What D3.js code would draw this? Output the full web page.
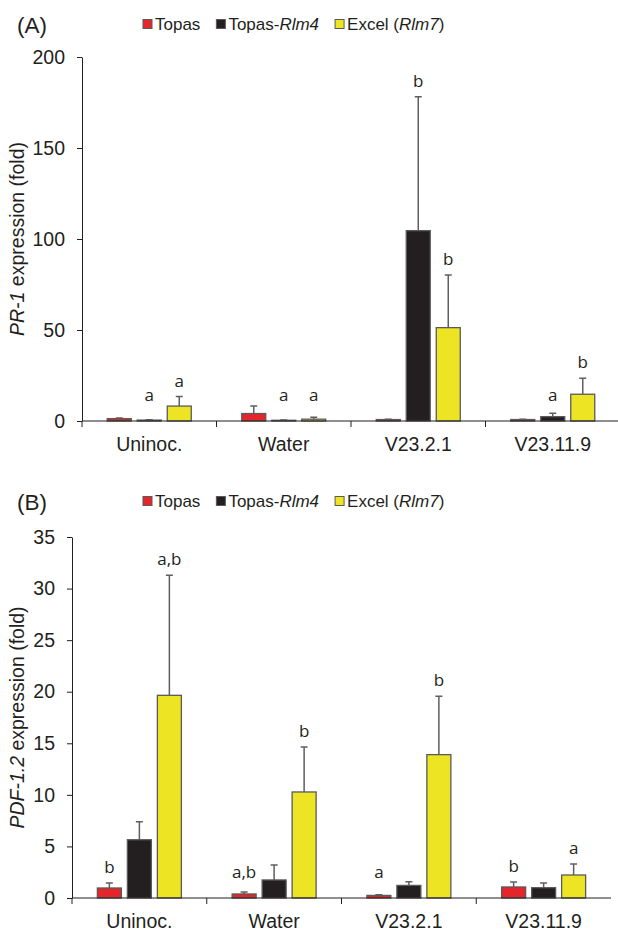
<!DOCTYPE html>
<html>
<head>
<meta charset="utf-8">
<script src="https://cdn.jsdelivr.net/npm/d3@7"></script>
<style>
  body { margin: 0; background: #fff; }
  text { font-family: "Liberation Sans", Arial, sans-serif; fill: #231f20; }
  .sig { font-family: "Open Sans", "DejaVu Sans", sans-serif; }
</style>
</head>
<body>
<div id="chart"></div>
<script>
// categories and series
const categories = ["Uninoc.", "Water", "V23.2.1", "V23.11.9"];
const seriesKeys = ["topas", "rlm4", "rlm7"];
const seriesColors = ["#e4252b", "#231f20", "#ede524"];

// (A) PR-1 expression, mean and upper error
const pr1Topas = [1.3, 4.1, 0.8, 0.8];
const pr1Rlm4 = [0.5, 0.4, 104.6, 2.4];
const pr1Rlm7 = [8.2, 1.0, 51.3, 14.7];
const pr1TopasErr = [0.3, 4.2, 0.2, 0.2];
const pr1Rlm4Err = [0.2, 0.2, 73.6, 1.8];
const pr1Rlm7Err = [5.2, 1.0, 28.9, 8.8];
const pr1TopasSig = ["", "", "", ""];
const pr1Rlm4Sig = ["a", "a", "b", "a"];
const pr1Rlm7Sig = ["a", "a", "b", "b"];
const pr1Ticks = [0, 50, 100, 150, 200];

// (B) PDF-1.2 expression, mean and upper error
const pdfTopas = [0.97, 0.39, 0.25, 1.07];
const pdfRlm4 = [5.65, 1.75, 1.22, 1.0];
const pdfRlm7 = [19.65, 10.28, 13.9, 2.23];
const pdfTopasErr = [0.48, 0.19, 0.06, 0.48];
const pdfRlm4Err = [1.75, 1.45, 0.36, 0.45];
const pdfRlm7Err = [11.65, 4.37, 5.65, 1.07];
const pdfTopasSig = ["b", "a,b", "a", "b"];
const pdfRlm4Sig = ["", "", "", ""];
const pdfRlm7Sig = ["a,b", "b", "b", "a"];
const pdfTicks = [0, 5, 10, 15, 20, 25, 30, 35];

// legend labels, pieces flagged italic
const legendLabels = [
  [["Topas", false]],
  [["Topas-", false], ["Rlm4", true]],
  [["Excel (", false], ["Rlm7", true], [")", false]]
];

const svg = d3.select("#chart")
  .append("svg")
    .attr("width", 618)
    .attr("height", 931);

function buildRows(means, errs, sigs) {
  return categories.map((c, i) => ({
    cat: c,
    bars: seriesKeys.map((k, j) => ({
      key: k, color: seriesColors[j],
      value: means[j][i], err: errs[j][i], sig: sigs[j][i]
    }))
  }));
}

function drawPanel(opt) {
  const g = svg.append("g");

  const x0 = d3.scaleBand()
    .domain(categories)
    .range([opt.left, opt.right]);

  const x1 = d3.scaleBand()
    .domain(seriesKeys)
    .range([-45, 45])
    .paddingInner(0.2)
    .paddingOuter(0.1);

  const y = d3.scaleLinear()
    .domain([0, opt.max])
    .range([opt.bottom, opt.top]);

  // panel letter
  g.append("text")
    .attr("x", 17)
    .attr("y", opt.legendY + 9)
    .style("font-size", "22.5px")
    .text(opt.letter);

  // legend
  let lx = 143;
  legendLabels.forEach((parts, j) => {
    g.append("rect")
      .attr("x", lx).attr("y", opt.legendY - 4.5)
      .attr("width", 9).attr("height", 9)
      .attr("fill", seriesColors[j])
      .attr("stroke", "#5a5a5a").attr("stroke-width", 1);
    const t = g.append("text")
      .attr("x", lx + 12)
      .attr("y", opt.legendY + 6)
      .style("font-size", "17px");
    parts.forEach(p => {
      t.append("tspan").text(p[0]).style("font-style", p[1] ? "italic" : "normal");
    });
    lx += 12 + t.node().getComputedTextLength() + 16;
  });

  // y axis
  g.append("g")
    .attr("transform", `translate(${opt.left}, 0)`)
    .call(d3.axisLeft(y).tickValues(opt.ticks).tickSize(5).tickSizeOuter(0).tickPadding(12))
    .call(a => a.selectAll("line, path").attr("stroke", "#231f20"))
    .call(a => a.selectAll("text").style("font-size", "19.5px").attr("fill", "#231f20")
      .style("font-family", "'Liberation Sans', Arial, sans-serif"));

  // y axis label
  const yl = g.append("text")
    .attr("transform", `translate(24, ${(opt.top + opt.bottom) / 2}) rotate(-90)`)
    .attr("text-anchor", "middle")
    .style("font-size", "19.5px");
  yl.append("tspan").text(opt.gene).style("font-style", "italic");
  yl.append("tspan").text(" expression (fold)");

  const rows = buildRows(opt.means, opt.errs, opt.sigs);

  const grp = g.selectAll(".grp")
    .data(rows)
    .enter()
    .append("g")
      .attr("transform", d => `translate(${x0(d.cat) + x0.bandwidth() / 2}, 0)`);

  // error bars (upper only)
  grp.selectAll(".err")
    .data(d => d.bars)
    .enter()
    .append("path")
      .attr("d", d => {
        const cx = x1(d.key) + x1.bandwidth() / 2;
        const yt = y(d.value + d.err);
        return `M${cx},${y(d.value)}V${yt}M${cx - 3.5},${yt}H${cx + 3.5}`;
      })
      .attr("stroke", "#5f5f5f")
      .attr("stroke-width", 1.5)
      .attr("fill", "none");

  // bars
  grp.selectAll(".bar")
    .data(d => d.bars)
    .enter()
    .append("rect")
      .attr("x", d => x1(d.key))
      .attr("y", d => y(d.value))
      .attr("width", x1.bandwidth())
      .attr("height", d => y(0) - y(d.value))
      .attr("fill", d => d.color)
      .attr("stroke", "#5a5a5a")
      .attr("stroke-width", 1.3);

  // significance letters
  grp.selectAll(".sig")
    .data(d => d.bars.filter(b => b.sig !== ""))
    .enter()
    .append("text")
      .attr("class", "sig")
      .attr("x", d => x1(d.key) + x1.bandwidth() / 2)
      .attr("y", d => Math.min(y(d.value + d.err) - 10, y(0) - 20))
      .attr("text-anchor", "middle")
      .style("font-size", "17px")
      .text(d => d.sig);

  // x axis line and category boundary ticks
  g.append("line")
    .attr("x1", opt.left).attr("x2", opt.right)
    .attr("y1", y(0)).attr("y2", y(0))
    .attr("stroke", "#231f20").attr("stroke-width", 1.2);
  g.selectAll(".xtick")
    .data(categories)
    .enter()
    .append("line")
      .attr("x1", d => x0(d)).attr("x2", d => x0(d))
      .attr("y1", y(0)).attr("y2", y(0) + 6)
      .attr("stroke", "#231f20");

  g.selectAll(".xlab")
    .data(categories)
    .enter()
    .append("text")
      .attr("x", d => x0(d) + x0.bandwidth() / 2)
      .attr("y", y(0) + 30)
      .attr("text-anchor", "middle")
      .style("font-size", "19.5px")
      .text(d => d);
}

drawPanel({
  letter: "(A)", gene: "PR-1", legendY: 24,
  left: 82, right: 620, top: 57, bottom: 421, max: 200, ticks: pr1Ticks,
  means: [pr1Topas, pr1Rlm4, pr1Rlm7],
  errs: [pr1TopasErr, pr1Rlm4Err, pr1Rlm7Err],
  sigs: [pr1TopasSig, pr1Rlm4Sig, pr1Rlm7Sig]
});

drawPanel({
  letter: "(B)", gene: "PDF-1.2", legendY: 501,
  left: 72, right: 611, top: 537, bottom: 898, max: 35, ticks: pdfTicks,
  means: [pdfTopas, pdfRlm4, pdfRlm7],
  errs: [pdfTopasErr, pdfRlm4Err, pdfRlm7Err],
  sigs: [pdfTopasSig, pdfRlm4Sig, pdfRlm7Sig]
});
</script>
</body>
</html>
